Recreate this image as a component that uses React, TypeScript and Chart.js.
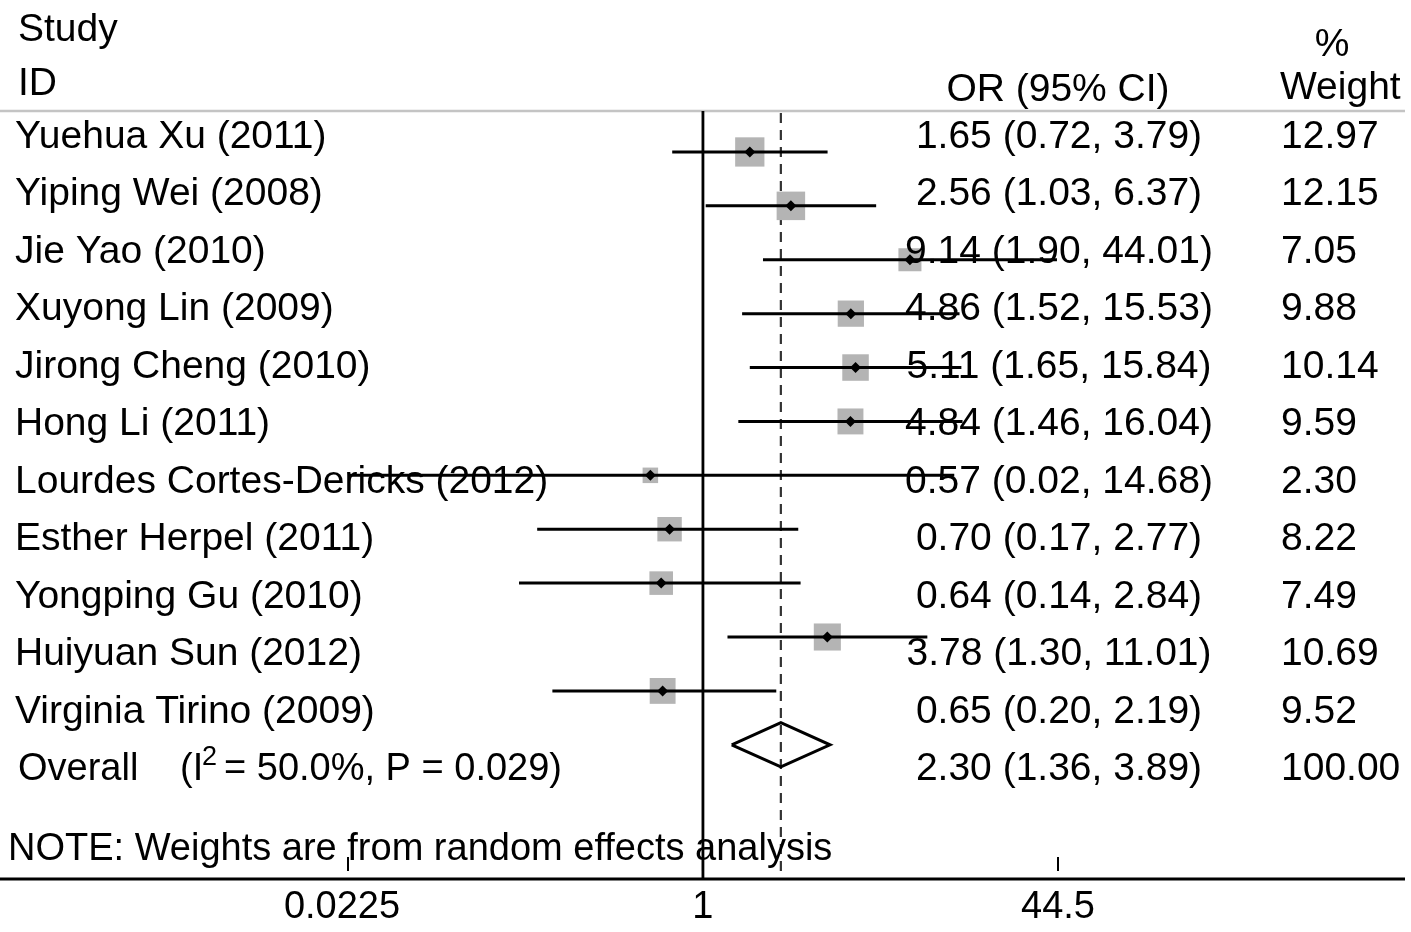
import React, { useEffect, useRef } from 'react';
import { Chart, registerables } from 'chart.js';

Chart.register(...registerables);

// ---- data ----
const studies = [
  'Yuehua Xu (2011)',
  'Yiping Wei (2008)',
  'Jie Yao (2010)',
  'Xuyong Lin (2009)',
  'Jirong Cheng (2010)',
  'Hong Li (2011)',
  'Lourdes Cortes-Dericks (2012)',
  'Esther Herpel (2011)',
  'Yongping Gu (2010)',
  'Huiyuan Sun (2012)',
  'Virginia Tirino (2009)',
];
const orValues = [1.65, 2.56, 9.14, 4.86, 5.11, 4.84, 0.57, 0.7, 0.64, 3.78, 0.65];
const ciLower = [0.72, 1.03, 1.9, 1.52, 1.65, 1.46, 0.02, 0.17, 0.14, 1.3, 0.2];
const ciUpper = [3.79, 6.37, 44.01, 15.53, 15.84, 16.04, 14.68, 2.77, 2.84, 11.01, 2.19];
const weights = [12.97, 12.15, 7.05, 9.88, 10.14, 9.59, 2.3, 8.22, 7.49, 10.69, 9.52];
const overallEstimate = [2.3, 1.36, 3.89]; // OR, lower, upper
const overallWeight = 100.0;
const iSquared = 50.0;
const pHeterogeneity = 0.029;
const tickValues = [0.0225, 1, 44.5];
const tickLabels = ['0.0225', '1', '44.5'];

const FONT = '"Liberation Sans", Arial, Helvetica, sans-serif';
const fmt = (v: number) => v.toFixed(2);

const forestPlugin = {
  id: 'forestDecor',
  beforeDatasetsDraw(chart: any) {
    const { ctx, chartArea, scales } = chart;
    const x = scales.x;
    ctx.save();
    // header rule
    ctx.strokeStyle = '#c4c4c4';
    ctx.lineWidth = 2.5;
    ctx.beginPath();
    ctx.moveTo(0, chartArea.top);
    ctx.lineTo(1405, chartArea.top);
    ctx.stroke();
    // null line at OR = 1
    const x1 = x.getPixelForValue(1);
    ctx.strokeStyle = '#000';
    ctx.lineWidth = 2.8;
    ctx.beginPath();
    ctx.moveTo(x1, chartArea.top);
    ctx.lineTo(x1, chartArea.bottom);
    ctx.stroke();
    // dashed line at overall estimate
    const xo = x.getPixelForValue(overallEstimate[0]);
    ctx.strokeStyle = '#333';
    ctx.lineWidth = 2.2;
    ctx.setLineDash([10, 7]);
    ctx.beginPath();
    ctx.moveTo(xo, chartArea.top + 2);
    ctx.lineTo(xo, chartArea.bottom - 6);
    ctx.stroke();
    ctx.restore();
  },
  afterDraw(chart: any) {
    const { ctx, chartArea, scales } = chart;
    const x = scales.x;
    ctx.save();
    // axis line
    ctx.strokeStyle = '#000';
    ctx.lineWidth = 2.8;
    ctx.beginPath();
    ctx.moveTo(0, chartArea.bottom);
    ctx.lineTo(1405, chartArea.bottom);
    ctx.stroke();
    // ticks (drawn above axis line)
    ctx.lineWidth = 2;
    tickValues.forEach((v) => {
      const px = x.getPixelForValue(v);
      ctx.beginPath();
      ctx.moveTo(px, chartArea.bottom - 22);
      ctx.lineTo(px, chartArea.bottom - 8);
      ctx.stroke();
    });
    ctx.fillStyle = '#000';
    ctx.font = `38px ${FONT}`;
    ctx.textAlign = 'center';
    ctx.textBaseline = 'alphabetic';
    tickValues.forEach((v, i) => {
      const px = x.getPixelForValue(v);
      ctx.fillText(tickLabels[i], px - (i === 0 ? 6 : 0), 918);
    });

    // headers
    ctx.font = `39px ${FONT}`;
    ctx.textAlign = 'left';
    ctx.fillText('Study', 18, 41);
    ctx.fillText('ID', 18, 95);
    ctx.fillText('Weight', 1280, 99);
    ctx.textAlign = 'center';
    ctx.fillText('%', 1332, 56);
    ctx.fillText('OR (95% CI)', 1058, 101);

    // rows
    const rowStep = 57.45;
    const base = 148;
    studies.forEach((s, i) => {
      const yb = base + rowStep * i;
      ctx.textAlign = 'left';
      ctx.fillText(s, 15, yb);
      ctx.textAlign = 'center';
      ctx.fillText(`${fmt(orValues[i])} (${fmt(ciLower[i])}, ${fmt(ciUpper[i])})`, 1059, yb);
      ctx.textAlign = 'left';
      ctx.fillText(fmt(weights[i]), 1281, yb);
    });
    const yo = base + rowStep * studies.length;
    ctx.textAlign = 'center';
    ctx.fillText(
      `${fmt(overallEstimate[0])} (${fmt(overallEstimate[1])}, ${fmt(overallEstimate[2])})`,
      1059,
      yo
    );
    ctx.textAlign = 'left';
    ctx.fillText(overallWeight.toFixed(2), 1281, yo);
    ctx.font = `38px ${FONT}`;
    ctx.fillText('Overall', 18, yo);
    ctx.fillText('(I', 180, yo);
    ctx.font = `27px ${FONT}`;
    ctx.fillText('2', 202, yo - 15);
    ctx.font = `38px ${FONT}`;
    ctx.fillText(`= ${iSquared.toFixed(1)}%, P = ${pHeterogeneity.toFixed(3)})`, 224, yo);

    // note
    ctx.fillText('NOTE: Weights are from random effects analysis', 8, 860);
    ctx.restore();
  },
};

export default function App() {
  const ref = useRef<HTMLCanvasElement>(null);

  useEffect(() => {
    if (!ref.current) return;
    const ciData: any[] = [];
    studies.forEach((_, i) => {
      ciData.push({ x: ciLower[i], y: i });
      ciData.push({ x: ciUpper[i], y: i });
      ciData.push({ x: orValues[i], y: null });
    });
    const oi = studies.length;
    const dh = 0.41;
    const diamondData = [
      { x: overallEstimate[1], y: oi },
      { x: overallEstimate[0], y: oi - dh },
      { x: overallEstimate[2], y: oi },
      { x: overallEstimate[0], y: oi + dh },
      { x: overallEstimate[1], y: oi },
    ];
    const pts = orValues.map((v, i) => ({ x: v, y: i }));

    const chart = new Chart(ref.current, {
      type: 'scatter',
      data: {
        datasets: [
          {
            label: 'estimate',
            data: pts,
            pointStyle: 'rectRot',
            pointRadius: 5.5,
            backgroundColor: '#000',
            borderWidth: 0,
            order: 0,
          } as any,
          {
            label: 'ci',
            data: ciData,
            showLine: true,
            spanGaps: false,
            borderColor: '#000',
            borderWidth: 3,
            pointRadius: 0,
            order: 1,
          } as any,
          {
            label: 'overall',
            data: diamondData,
            showLine: true,
            borderColor: '#000',
            borderWidth: 3,
            borderJoinStyle: 'miter',
            backgroundColor: '#fff',
            fill: false,
            pointRadius: 0,
            order: 1,
          } as any,
          {
            label: 'weight',
            data: pts,
            pointStyle: 'rect',
            pointRadius: (c: any) => (5.5 + 6.6 * Math.sqrt(weights[c.dataIndex] ?? 1)) / Math.SQRT2,
            backgroundColor: '#b4b4b4',
            borderWidth: 0,
            order: 2,
          } as any,
        ],
      },
      options: {
        animation: false,
        responsive: false,
        events: [],
        layout: { padding: { left: 348, right: 353, top: 111, bottom: 53 } },
        plugins: { legend: { display: false }, tooltip: { enabled: false } },
        scales: {
          x: { type: 'logarithmic', min: 0.0225, max: 44.5, display: false },
          y: { type: 'linear', min: -0.76, max: 13.49, reverse: true, display: false },
        },
      },
      plugins: [forestPlugin],
    });
    return () => chart.destroy();
  }, []);

  return (
    <div style={{ position: 'absolute', left: 0, top: 0, width: 1411, height: 932, background: '#fff' }}>
      <canvas ref={ref} width={1411} height={932} style={{ display: 'block', width: 1411, height: 932 }} />
    </div>
  );
}
